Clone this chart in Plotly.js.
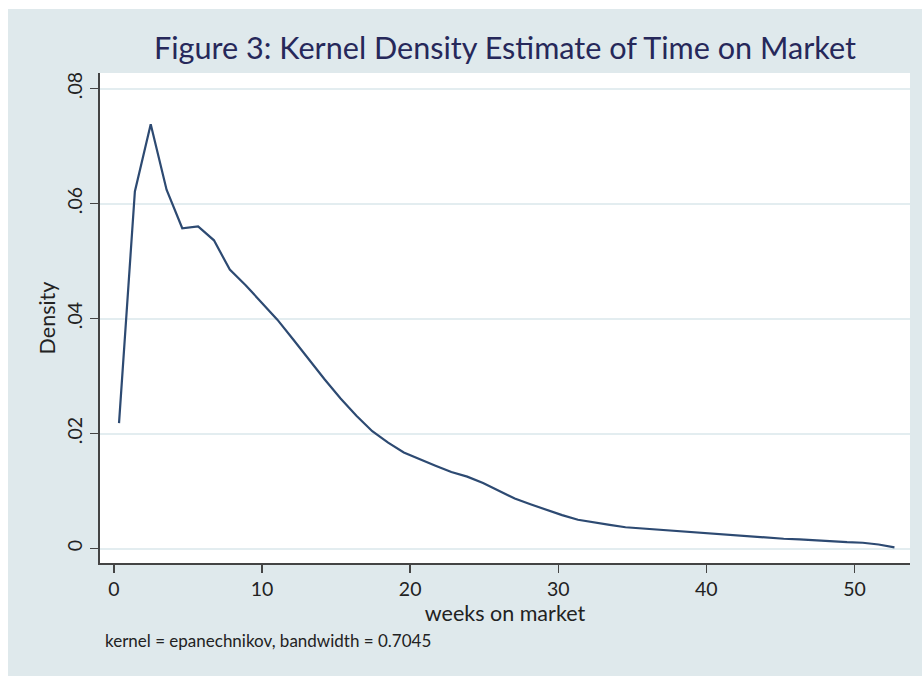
<!DOCTYPE html>
<html>
<head>
<meta charset="utf-8">
<script src="https://cdn.plot.ly/plotly-3.0.1.min.js"></script>
<style>
  html, body { margin: 0; padding: 0; background: #ffffff; }
  #chart { position: absolute; left: 8px; top: 9px; width: 914px; height: 667px; }
</style>
</head>
<body>
<div id="chart"></div>
<script>
const weeks = [0.34, 1.41, 2.48, 3.55, 4.61, 5.68, 6.75, 7.82, 8.89, 9.96,
  11.03, 12.09, 13.16, 14.23, 15.30, 16.37, 17.44, 18.51, 19.57, 20.64,
  21.71, 22.78, 23.85, 24.92, 25.99, 27.06, 28.12, 29.19, 30.26, 31.33,
  32.40, 33.47, 34.54, 35.60, 36.67, 37.74, 38.81, 39.88, 40.95, 42.02,
  43.08, 44.15, 45.22, 46.29, 47.36, 48.43, 49.50, 50.56, 51.63, 52.70];
const density = [0.0218, 0.0621, 0.0738, 0.0624, 0.0557, 0.0560, 0.0536, 0.0485, 0.0458, 0.0428,
  0.0398, 0.0364, 0.0328, 0.0294, 0.0261, 0.0231, 0.0204, 0.0184, 0.0167, 0.0155,
  0.0144, 0.0133, 0.0125, 0.0114, 0.0100, 0.0087, 0.0077, 0.0067, 0.0058, 0.0050,
  0.0045, 0.0041, 0.0037, 0.0035, 0.0033, 0.0031, 0.0028, 0.0027, 0.0025, 0.0022,
  0.0020, 0.0019, 0.0017, 0.0016, 0.0014, 0.0013, 0.0011, 0.0010, 0.0007, 0.0002];
const xTickVals = [0, 10, 20, 30, 40, 50];
const yTickVals = [0, 0.02, 0.04, 0.06, 0.08];
const yTickText = ["0", ".02", ".04", ".06", ".08"];
const titleText = "Figure 3: Kernel Density Estimate of Time on Market";
const xTitle = "weeks on market";
const yTitle = "Density";
const noteText = "kernel = epanechnikov, bandwidth = 0.7045";

const FONT = "Lato, 'Open Sans', sans-serif";
const trace = {
  x: weeks, y: density, type: "scatter", mode: "lines",
  line: { color: "#2d4a72", width: 2.2 },
  hoverinfo: "skip"
};
const layout = {
  width: 914, height: 667,
  paper_bgcolor: "#dfe9ec",
  plot_bgcolor: "#ffffff",
  margin: { l: 92, r: 12, t: 64, b: 113 },
  font: { family: FONT, color: "#222222" },
  showlegend: false,
  title: {
    text: titleText,
    font: { family: FONT, size: 30.6, color: "#26285a" },
    x: 0.5, xref: "paper", xanchor: "center",
    y: 1 - (48 - 9) / 667, yref: "container", yanchor: "middle"
  },
  xaxis: {
    range: [-0.945, 53.75],
    tickvals: xTickVals,
    ticks: "outside", ticklen: 8, tickwidth: 1.5, tickcolor: "#444444",
    tickfont: { size: 19.5, color: "#222222" },
    showline: true, linecolor: "#444444", linewidth: 2,
    showgrid: false, zeroline: false,
    title: { text: xTitle, font: { size: 21.5, color: "#222222" }, standoff: 2 }
  },
  yaxis: {
    range: [-0.00252, 0.0827],
    tickvals: yTickVals, ticktext: yTickText,
    tickangle: -90,
    ticks: "outside", ticklen: 8, tickwidth: 1.5, tickcolor: "#444444",
    tickfont: { size: 19.5, color: "#222222" },
    showline: true, linecolor: "#444444", linewidth: 2,
    showgrid: true, gridcolor: "#e3edf0", gridwidth: 2,
    zeroline: false,
    title: { text: yTitle, font: { size: 21.5, color: "#222222" }, standoff: 2 }
  },
  annotations: [{
    text: noteText, xref: "paper", yref: "paper",
    x: (103 - 100) / 810, y: -(640 - 563) / 490,
    xanchor: "left", yanchor: "middle", showarrow: false,
    font: { family: FONT, size: 17, color: "#222222" }
  }]
};
Plotly.newPlot("chart", [trace], layout, { displayModeBar: false, staticPlot: true });
</script>
</body>
</html>
